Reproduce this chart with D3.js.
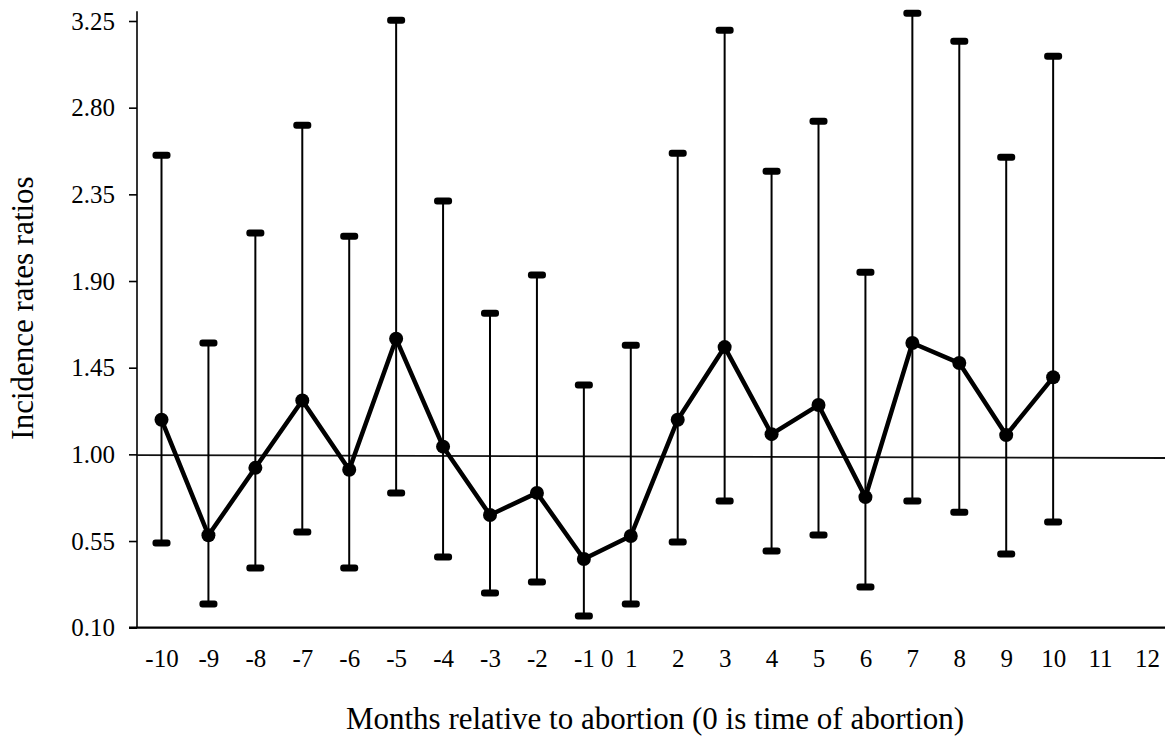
<!DOCTYPE html>
<html>
<head>
<meta charset="utf-8">
<script src="https://cdn.jsdelivr.net/npm/d3@7"></script>
<style>
  body { margin: 0; background: #fff; }
  svg { display: block; font-family: "Liberation Serif", "Times New Roman", serif; }
</style>
</head>
<body>
<svg></svg>
<script>
let width = 1165
let height = 740

// x categories (0 sits between -1 and 1, it has no slot of its own)
let months = [-10, -9, -8, -7, -6, -5, -4, -3, -2, -1, 1, 2, 3, 4, 5, 6, 7, 8, 9, 10, 11, 12]
let dataMonths = [-10, -9, -8, -7, -6, -5, -4, -3, -2, -1, 1, 2, 3, 4, 5, 6, 7, 8, 9, 10]
let irr   = [1.18, 0.58, 0.93, 1.28, 0.92, 1.60, 1.04, 0.685, 0.80, 0.457, 0.576, 1.18, 1.557, 1.105, 1.256, 0.778, 1.578, 1.474, 1.10, 1.40]
let lower = [0.54, 0.223, 0.41, 0.597, 0.41, 0.80, 0.467, 0.28, 0.337, 0.161, 0.223, 0.545, 0.758, 0.498, 0.581, 0.311, 0.758, 0.70, 0.483, 0.649]
let upper = [2.553, 1.578, 2.149, 2.709, 2.133, 3.254, 2.315, 1.733, 1.931, 1.36, 1.567, 2.564, 3.202, 2.47, 2.73, 1.946, 3.29, 3.145, 2.543, 3.067]
let yTicks = [0.10, 0.55, 1.00, 1.45, 1.90, 2.35, 2.80, 3.25]
// reference line near 1.00 (drawn slightly tilted in the original)
let refLine = [0.996, 0.981]

let values = dataMonths.map((m, i) => ({ m: m, v: irr[i], lo: lower[i], hi: upper[i] }))

let svg = d3.select('svg').attr('width', width).attr('height', height)

let font = '"Liberation Serif", "Times New Roman", serif'
let xLeft = 137
let xRight = 1165
let yBottom = 627.7

let xscale = d3.scalePoint()
    .domain(months)
    .range([161.5, 1147])

let yscale = d3.scaleLinear()
    .domain([0.10, 3.25])
    .range([yBottom, 21])

// y axis
let yAxis = d3.axisLeft(yscale)
    .tickValues(yTicks)
    .tickFormat(d3.format('.2f'))
    .tickSize(8)
    .tickSizeOuter(0)
    .tickPadding(14)

let gy = svg.append('g')
    .attr('transform', 'translate(' + xLeft + ',0)')
    .call(yAxis)
    .attr('font-family', font)
    .attr('font-size', 25)
gy.select('.domain').remove()
gy.selectAll('line').attr('stroke', '#000').attr('stroke-width', 1.6)
gy.selectAll('text').attr('fill', '#000')

svg.append('line')
    .attr('x1', xLeft).attr('x2', xLeft)
    .attr('y1', yscale(3.30)).attr('y2', yBottom)
    .attr('stroke', '#000').attr('stroke-width', 1.6)

// x axis
let xAxis = d3.axisBottom(xscale)
    .tickSize(0)
    .tickPadding(22)

let gx = svg.append('g')
    .attr('transform', 'translate(0,' + yBottom + ')')
    .call(xAxis)
    .attr('font-family', font)
    .attr('font-size', 25)
gx.select('.domain').remove()
gx.selectAll('text').attr('fill', '#000')

// the "0" label between -1 and 1
gx.append('text')
    .attr('x', (xscale(-1) + xscale(1)) / 2)
    .attr('y', 22)
    .attr('dy', '0.71em')
    .attr('text-anchor', 'middle')
    .attr('fill', '#000')
    .text('0')

svg.append('line')
    .attr('x1', xLeft - 8).attr('x2', xRight)
    .attr('y1', yBottom).attr('y2', yBottom)
    .attr('stroke', '#000').attr('stroke-width', 2.2)

// reference line
svg.append('line')
    .attr('x1', xLeft).attr('x2', xRight)
    .attr('y1', yscale(refLine[0])).attr('y2', yscale(refLine[1]))
    .attr('stroke', '#111').attr('stroke-width', 1.8)

// error bars
svg.selectAll('.err')
    .data(values)
    .enter()
    .append('line')
    .attr('class', 'err')
    .attr('x1', d => xscale(d.m))
    .attr('x2', d => xscale(d.m))
    .attr('y1', d => yscale(d.hi))
    .attr('y2', d => yscale(d.lo))
    .attr('stroke', '#000')
    .attr('stroke-width', 2)

let caps = values.flatMap(d => [{ m: d.m, v: d.hi }, { m: d.m, v: d.lo }])
svg.selectAll('.cap')
    .data(caps)
    .enter()
    .append('rect')
    .attr('class', 'cap')
    .attr('x', d => xscale(d.m) - 9)
    .attr('y', d => yscale(d.v) - 3.5)
    .attr('width', 18)
    .attr('height', 7)
    .attr('rx', 3)
    .attr('fill', '#000')

// main line
let line = d3.line()
    .x(d => xscale(d.m))
    .y(d => yscale(d.v))

svg.append('path')
    .datum(values)
    .attr('d', line)
    .attr('fill', 'none')
    .attr('stroke', '#000')
    .attr('stroke-width', 4.5)
    .attr('stroke-linejoin', 'round')

svg.selectAll('.dot')
    .data(values)
    .enter()
    .append('circle')
    .attr('class', 'dot')
    .attr('cx', d => xscale(d.m))
    .attr('cy', d => yscale(d.v))
    .attr('r', 7)
    .attr('fill', '#000')

// axis titles
svg.append('text')
    .attr('transform', 'translate(33,308) rotate(-90)')
    .attr('text-anchor', 'middle')
    .attr('font-size', 31)
    .attr('fill', '#000')
    .text('Incidence rates ratios')

svg.append('text')
    .attr('x', 655)
    .attr('y', 729)
    .attr('text-anchor', 'middle')
    .attr('font-size', 31)
    .attr('fill', '#000')
    .text('Months relative to abortion (0 is time of abortion)')
</script>
</body>
</html>
